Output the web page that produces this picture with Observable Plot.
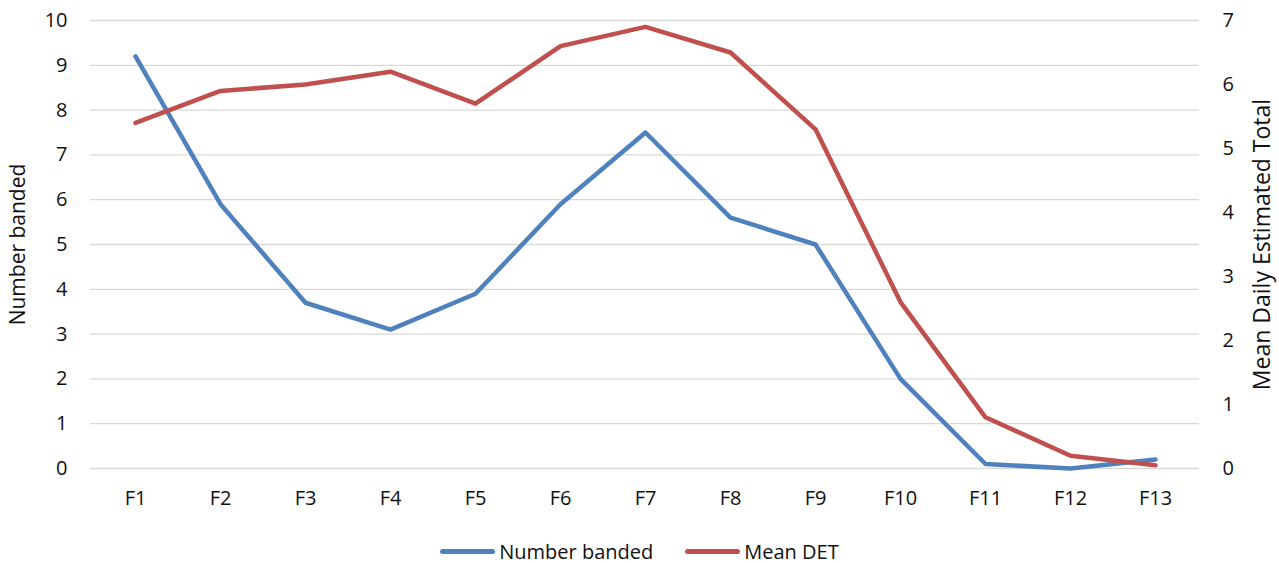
<!DOCTYPE html>
<html>
<head>
<meta charset="utf-8">
<script src="https://cdn.jsdelivr.net/npm/d3@7"></script>
<script src="https://cdn.jsdelivr.net/npm/@observablehq/plot@0.6"></script>
<style>
  html, body { margin: 0; padding: 0; background: #fff; overflow: hidden; }
  #chart svg { display: block; }
  .legend { display: flex; justify-content: center; align-items: center; height: 24px; margin-top: 18px; font-family: "Open Sans", sans-serif; font-size: 20px; color: #111; padding-left: 0px; }
  .legend .item { display: flex; align-items: center; margin: 0 16px; }
  .legend .sw { width: 55px; height: 5px; border-radius: 3px; margin-right: 4px; }
</style>
</head>
<body>
<div id="chart"></div>
<div class="legend">
  <div class="item"><div class="sw" style="background:#4f81bd"></div><span>Number banded</span></div>
  <div class="item"><div class="sw" style="background:#c0504d"></div><span>Mean DET</span></div>
</div>
<script>
const categories = ["F1","F2","F3","F4","F5","F6","F7","F8","F9","F10","F11","F12","F13"];
const numberBanded = [9.2, 5.9, 3.7, 3.1, 3.9, 5.9, 7.5, 5.6, 5.0, 2.0, 0.1, 0.0, 0.2];
const meanDET = [5.4, 5.9, 6.0, 6.2, 5.7, 6.6, 6.9, 6.5, 5.3, 2.6, 0.8, 0.2, 0.05];
const leftTicks = [0,1,2,3,4,5,6,7,8,9,10];
const rightTicks = [0,1,2,3,4,5,6,7];
const leftMax = 10, rightMax = 7;
const k = leftMax / rightMax;

const blue = categories.map((c, i) => ({cat: c, v: numberBanded[i]}));
const red = categories.map((c, i) => ({cat: c, v: meanDET[i] * k}));

const chart = Plot.plot({
  width: 1279,
  height: 521,
  marginLeft: 90,
  marginRight: 80,
  marginTop: 20,
  marginBottom: 53,
  style: { fontFamily: "'Open Sans', sans-serif", fontSize: "20px", color: "#111" },
  x: { type: "point", domain: categories, padding: 0.5 },
  y: { domain: [0, leftMax] },
  marks: [
    Plot.gridY(leftTicks, { stroke: "#d9d9d9", strokeOpacity: 1, strokeWidth: 1.3 }),
    Plot.axisX({ tickSize: 0, tickPadding: 22, label: null, fontSize: 20 }),
    Plot.axisY(leftTicks, { anchor: "left", tickSize: 0, tickPadding: 23, fontSize: 20, label: null }),
    Plot.axisY(rightTicks.map(t => t * k), { anchor: "right", tickSize: 0, tickPadding: 23, fontSize: 20, tickFormat: d => String(Math.round(d / k)), label: null }),
    Plot.axisY({ anchor: "left", ticks: [], tickSize: 0, label: "Number banded", labelAnchor: "center", labelArrow: "none", labelOffset: 80, fontSize: 21 }),
    Plot.axisY({ anchor: "right", ticks: [], tickSize: 0, label: "Mean Daily Estimated Total", labelAnchor: "center", labelArrow: "none", labelOffset: 70, fontSize: 23 }),
    Plot.line(blue, { x: "cat", y: "v", stroke: "#4f81bd", strokeWidth: 4.5, strokeLinecap: "round", strokeLinejoin: "round" }),
    Plot.line(red, { x: "cat", y: "v", stroke: "#c0504d", strokeWidth: 4.5, strokeLinecap: "round", strokeLinejoin: "round" })
  ]
});
document.getElementById("chart").appendChild(chart);
</script>
</body>
</html>
